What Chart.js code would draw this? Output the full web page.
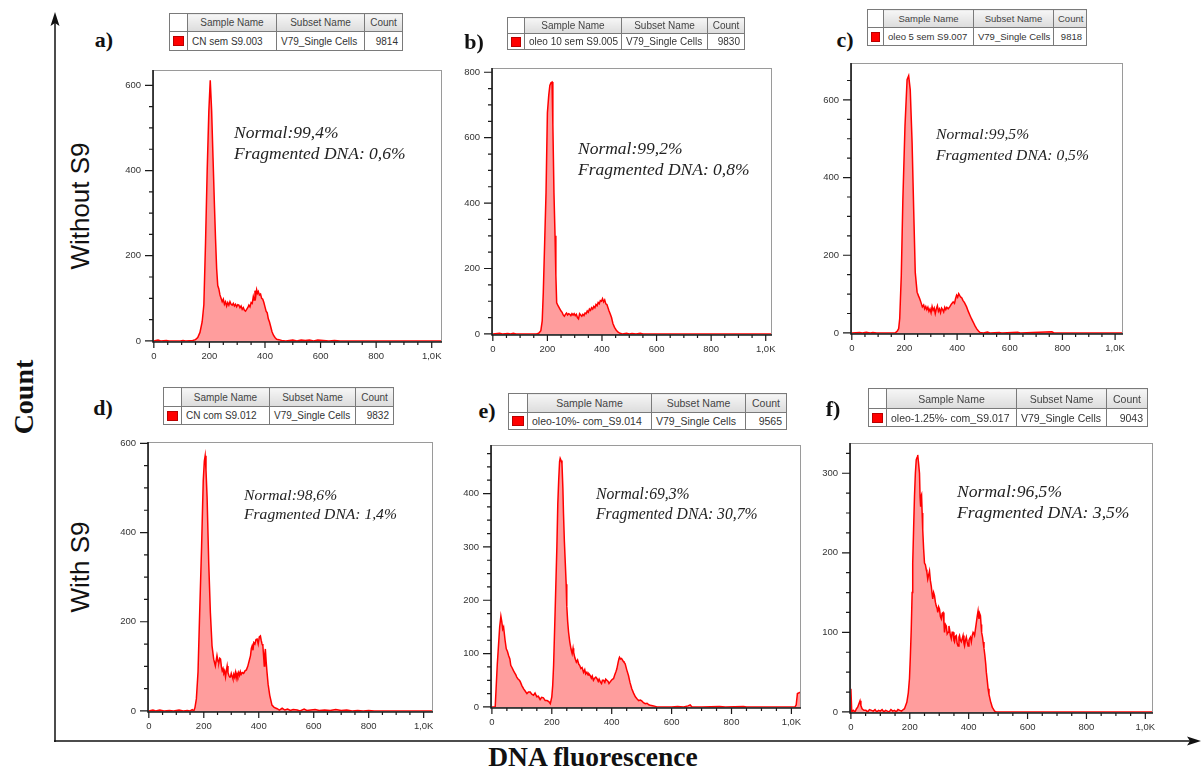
<!DOCTYPE html>
<html>
<head>
<meta charset="utf-8">
<script src="https://cdn.jsdelivr.net/npm/chart.js@4.4.1/dist/chart.umd.min.js"></script>
<style>
  body { margin:0; background:#fff; width:1202px; height:771px; position:relative; overflow:hidden;
         font-family:"Liberation Sans", Arial, sans-serif; }
  canvas { position:absolute; }
  svg { position:absolute; left:0; top:0; }
  .tag { position:absolute; font-family:"Liberation Serif", serif; font-weight:bold; font-size:22px;
         color:#111; transform:translate(-50%,-50%); white-space:nowrap; }
  .note { position:absolute; font-family:"Liberation Serif", serif; font-style:italic; color:#222; white-space:nowrap; }
  .row { position:absolute; font-size:26px; color:#111; white-space:nowrap;
         transform:translate(-50%,-50%) rotate(-90deg); }
  .big { position:absolute; font-family:"Liberation Serif", serif; font-weight:bold; font-size:28px; color:#111;
         white-space:nowrap; transform:translate(-50%,-50%); }
  table.info { position:absolute; border-collapse:collapse; table-layout:fixed; color:#333;
               border:1px solid #555; }
  table.info td { border:1px solid #7a7a7a; padding:0 4px; white-space:nowrap; overflow:hidden; }
  table.info tr.head td { background:linear-gradient(#f6f6f6,#dcdcdc); text-align:center; color:#444; }
  table.info tr.head td.blank { background:#fff; }
  table.info td.num { text-align:right; }
  table.info td.sw { padding:0 3px; }
  table.info td.sw div { background:#f00; border:1px solid #b00; height:8px; }
</style>
</head>
<body>
<svg width="1202" height="771">
  <line x1="55" y1="742" x2="55" y2="20" stroke="#111" stroke-width="1.5"/>
  <polygon points="55,12 50.5,26 55,23 59.5,26" fill="#111"/>
  <line x1="54" y1="741" x2="1192" y2="741" stroke="#111" stroke-width="1.5"/>
  <polygon points="1201,741 1187,736.5 1190,741 1187,745.5" fill="#111"/>
</svg>

<div class="row" style="left:80px; top:206px;">Without S9</div>
<div class="row" style="left:80px; top:567px;">With S9</div>
<div class="big" style="left:24px; top:397px; transform:translate(-50%,-50%) rotate(-90deg);">Count</div>
<div class="big" style="left:593px; top:757px; font-size:27.5px;">DNA fluorescence</div>

<script>
// DNA fluorescence channel vs count
const countsA = [[0,0],[15,2],[25,0],[45,1],[55,0],[95,0],[105,1],[115,0],[140,1],[150,3],[158,8],[166,20],[174,45],[180,85],
  [186,230],[192,400],[198,540],[203,612],[208,540],[213,430],[218,320],[222,240],[226,170],[230,130],[234,122],[238,108],
  [242,100],[246,92],[250,98],[254,86],[258,92],[262,82],[266,90],[270,84],[274,92],[278,86],[282,84],[286,88],[290,82],
  [294,86],[298,80],[302,85],[306,84],[310,78],[314,82],[318,74],[322,78],[326,72],[330,70],[334,74],[338,78],[342,84],
  [346,80],[350,90],[354,88],[358,104],[361,96],[364,118],[367,106],[370,120],[373,112],[376,116],[380,108],[384,110],
  [388,100],[392,98],[396,90],[400,80],[404,70],[408,66],[412,52],[416,45],[420,35],[425,22],[430,14],[436,8],[442,4],
  [450,3],[460,1],[475,0],[500,2],[515,0],[530,2],[545,1],[560,2],[575,0],[590,2],[610,1],[630,0],[650,1],[670,0],[1037,0]];

const countsB = [[0,0],[25,2],[35,0],[55,1],[65,0],[75,2],[85,0],[160,0],[168,2],[176,10],[181,40],[185,128],[190,280],
  [195,432],[200,676],[205,730],[209,760],[213,768],[217,770],[220,640],[224,432],[228,300],[231,180],[234,95],[238,88],
  [242,82],[246,76],[250,70],[254,66],[258,58],[262,54],[266,60],[270,64],[274,58],[278,62],[282,60],[286,56],[290,62],
  [294,58],[298,62],[302,56],[306,60],[310,50],[314,46],[318,62],[322,58],[326,54],[330,60],[334,56],[338,64],[342,62],
  [346,70],[350,66],[354,76],[358,72],[362,80],[366,76],[370,84],[374,80],[378,90],[382,86],[386,96],[390,92],[394,102],
  [398,100],[402,108],[406,98],[410,104],[414,92],[418,90],[422,80],[426,70],[430,62],[435,50],[440,32],[446,20],[452,12],
  [458,6],[466,2],[475,0],[490,2],[500,0],[510,1],[525,0],[540,2],[550,0],[1023,0]];

const countsC = [[0,0],[30,1],[40,0],[55,2],[70,0],[80,1],[95,0],[165,0],[172,4],[178,11],[182,37],[188,148],[194,344],
  [202,532],[210,652],[216,662],[222,626],[229,490],[235,319],[241,156],[248,105],[253,96],[258,88],[263,78],[268,67],
  [273,72],[277,62],[281,68],[285,60],[289,66],[293,56],[297,62],[301,52],[305,68],[309,58],[313,64],[317,50],[321,62],
  [325,70],[329,56],[333,62],[337,52],[341,64],[345,60],[349,54],[353,66],[357,60],[361,66],[366,62],[372,67],[378,74],
  [385,80],[390,76],[394,88],[398,97],[402,92],[406,101],[410,96],[414,92],[418,90],[422,84],[428,78],[436,67],[442,56],
  [449,45],[455,36],[461,28],[468,18],[474,11],[481,5],[487,1],[500,0],[515,2],[525,0],[560,1],[570,0],[630,2],[640,0],
  [760,3],[768,0],[1030,0]];

const countsD = [[0,0],[15,2],[25,0],[40,2],[55,0],[75,1],[90,0],[110,2],[125,0],[140,1],[150,0],[158,3],[164,0],[168,8],
  [173,27],[179,87],[185,220],[192,368],[198,516],[202,560],[205,572],[208,540],[212,479],[218,331],[224,220],[230,146],
  [236,116],[242,101],[248,124],[252,110],[255,109],[258,118],[261,116],[264,100],[267,90],[270,95],[273,84],[276,88],
  [279,76],[282,90],[285,101],[288,86],[291,80],[294,76],[297,76],[300,84],[303,78],[306,72],[309,82],[312,76],[315,86],
  [318,74],[321,84],[324,78],[327,86],[330,80],[333,88],[336,82],[340,86],[345,84],[350,90],[355,92],[360,100],[365,112],
  [370,124],[373,140],[376,146],[379,136],[382,153],[386,150],[390,160],[394,161],[398,150],[402,166],[406,168],[409,158],
  [412,150],[415,146],[418,120],[420,101],[422,125],[424,139],[427,110],[430,87],[434,60],[440,35],[448,13],[456,8],
  [467,5],[475,2],[485,6],[495,2],[505,4],[515,1],[525,3],[540,2],[550,0],[565,4],[575,1],[590,2],[605,3],[620,1],
  [640,2],[660,1],[680,3],[700,1],[720,2],[740,0],[760,1],[780,0],[800,1],[820,0],[1034,0]];

const countsE = [[0,0],[11,0],[14,34],[18,80],[22,115],[26,150],[30,170],[33,160],[36,146],[39,150],[41,140],[44,125],
  [48,109],[52,104],[56,96],[60,90],[63,78],[67,74],[72,68],[76,64],[80,60],[83,56],[88,52],[92,50],[95,47],[100,40],
  [106,34],[111,30],[117,25],[122,28],[128,28],[133,24],[139,22],[144,26],[150,19],[155,20],[161,14],[166,18],[172,17],
  [178,12],[184,12],[190,10],[195,6],[200,19],[203,40],[206,78],[211,177],[217,301],[220,380],[223,425],[226,460],
  [228,466],[231,462],[234,456],[237,410],[239,363],[242,310],[245,270],[248,230],[250,189],[253,160],[256,140],[260,122],
  [264,109],[268,100],[271,110],[273,102],[277,92],[282,84],[286,88],[290,80],[293,78],[297,72],[301,74],[306,65],
  [310,70],[313,62],[317,65],[321,60],[324,62],[328,59],[332,54],[335,58],[339,50],[343,54],[347,56],[351,53],[355,48],
  [358,52],[362,47],[366,44],[369,50],[373,50],[377,46],[380,52],[384,50],[388,48],[391,44],[395,47],[399,50],[403,52],
  [406,53],[410,60],[414,66],[417,71],[421,82],[424,90],[426,93],[429,90],[432,91],[434,90],[438,86],[441,84],[445,81],
  [450,70],[456,59],[461,46],[467,34],[473,26],[479,19],[485,15],[490,12],[496,13],[501,11],[506,8],[512,6],[518,7],
  [524,4],[529,3],[540,2],[551,0],[600,0],[620,1],[640,0],[655,2],[662,4],[668,0],[700,0],[760,1],[780,0],[840,1],
  [850,0],[1012,0],[1016,4],[1020,25],[1032,28]];

const countsF = [[0,29],[3,0],[8,2],[14,0],[19,4],[23,6],[27,10],[31,14],[34,8],[38,4],[44,2],[51,2],[57,0],[63,3],[70,2],
  [76,1],[82,3],[88,0],[94,2],[100,1],[106,3],[112,0],[118,2],[124,1],[130,0],[136,3],[142,1],[148,2],[154,0],[160,3],
  [166,2],[172,1],[178,3],[182,4],[186,8],[190,12],[195,24],[199,42],[202,70],[205,104],[208,150],[210,187],[213,230],
  [216,271],[219,300],[222,317],[225,320],[227,323],[230,312],[233,300],[235,270],[236,258],[238,270],[240,273],[242,250],
  [244,229],[247,205],[250,187],[253,185],[256,179],[258,176],[261,167],[264,172],[267,177],[270,165],[273,158],[276,148],
  [278,142],[281,150],[284,146],[287,138],[290,133],[293,130],[295,125],[298,132],[301,129],[304,120],[307,117],[310,124],
  [313,125],[316,112],[318,100],[321,110],[324,108],[327,98],[330,100],[333,108],[335,104],[338,96],[341,92],[344,100],
  [347,100],[350,90],[352,88],[355,95],[358,96],[361,86],[364,83],[367,94],[369,96],[372,90],[375,88],[378,92],[381,96],
  [384,86],[386,83],[389,90],[392,94],[395,88],[398,83],[401,90],[403,92],[406,94],[409,88],[412,96],[415,100],[418,98],
  [420,96],[423,104],[426,112],[429,120],[432,127],[435,117],[437,124],[440,121],[442,110],[444,100],[447,94],[449,88],
  [452,80],[455,71],[458,60],[460,50],[463,40],[466,29],[469,22],[472,17],[475,12],[477,10],[480,6],[483,4],[488,1],
  [494,0],[1026,0]];

const panelTags   = ['a)', 'b)', 'c)', 'd)', 'e)', 'f)'];
const sampleNames = ['CN sem S9.003', 'oleo 10 sem S9.005', 'oleo 5 sem S9.007',
                     'CN com S9.012', 'oleo-10%- com_S9.014', 'oleo-1.25%- com_S9.017'];
const subsetName  = 'V79_Single Cells';
const cellCounts  = [9814, 9830, 9818, 9832, 9565, 9043];
const normalPct   = ['99,4%', '99,2%', '99,5%', '98,6%', '69,3%', '96,5%'];
const fragPct     = ['0,6%', '0,8%', '0,5%', '1,4%', '30,7%', '3,5%'];
const xTickValues = [0, 200, 400, 600, 800, 1000];
const xTickLabels = ['0', '200', '400', '600', '800', '1,0K'];
const yTickSteps  = [200, 200, 200, 200, 100, 100];
const yMaxima     = [636, 813, 695, 603, 491, 338];
const xMaxima     = [1037, 1023, 1030, 1034, 1032, 1026];
const allCounts   = [countsA, countsB, countsC, countsD, countsE, countsF];

// layout of each panel on the page
const boxes = [
  {l:153, t:70,  r:442,  b:342}, {l:492, t:68,  r:772,  b:335}, {l:851, t:63,  r:1123, b:334},
  {l:148, t:442, r:433,  b:712}, {l:491, t:445, r:801,  b:708}, {l:850, t:443, r:1153, b:713}
];
const tables = [
  {l:169, t:13,  w:[18, 89, 88, 38],  h:[18, 19], fs:10},
  {l:507, t:17,  w:[17, 97, 86, 37],  h:[16, 16], fs:10},
  {l:867, t:9,   w:[16, 90, 80, 33],  h:[18, 18], fs:9.5},
  {l:163, t:387, w:[18, 88, 86, 38],  h:[19, 18], fs:10},
  {l:508, t:393, w:[19, 124, 94, 41], h:[19, 17], fs:10.5},
  {l:868, t:388, w:[18, 130, 90, 41], h:[20, 18], fs:10.5}
];
const tagPos = [[104, 40], [474, 42], [845, 40], [103, 408], [487, 411], [833, 409]];
const notes = [
  {l:234, cap:127, fs:17.5, lh:20.5}, {l:578, cap:143, fs:17.5, lh:21.5}, {l:936, cap:128, fs:15.6, lh:21},
  {l:244, cap:489, fs:15.6, lh:19},   {l:596, cap:489, fs:15.7, lh:19.3}, {l:957, cap:486, fs:17.6, lh:20.7}
];

Chart.defaults.font.family = '"Liberation Sans", Arial, sans-serif';

// gray plot frame, black axis lines, major and minor tick marks
const framePlugin = {
  id: 'frame',
  afterDatasetsDraw(chart) {
    const ctx = chart.ctx, a = chart.chartArea, x = chart.scales.x, y = chart.scales.y;
    const p = chart.options.plugins.frame;
    ctx.save();
    ctx.strokeStyle = '#9a9a9a'; ctx.lineWidth = 1;
    ctx.strokeRect(a.left + 0.5, a.top + 0.5, a.right - a.left - 1, a.bottom - a.top - 1);
    ctx.strokeStyle = '#1a1a1a'; ctx.lineWidth = 1.6;
    ctx.beginPath();
    ctx.moveTo(a.left, a.top); ctx.lineTo(a.left, a.bottom); ctx.lineTo(a.right, a.bottom);
    ctx.stroke();
    ctx.lineWidth = 1.2;
    ctx.beginPath();
    for (let v = 0; v <= 1000; v += 50) {
      const px = x.getPixelForValue(v);
      ctx.moveTo(px, a.bottom); ctx.lineTo(px, a.bottom + (v % 200 === 0 ? 6 : 3));
    }
    for (let v = 0; v <= p.yMax; v += p.yStep / 4) {
      const py = y.getPixelForValue(v);
      ctx.moveTo(a.left, py); ctx.lineTo(a.left - (v % p.yStep === 0 ? 8 : 4), py);
    }
    ctx.stroke();
    ctx.restore();
  }
};

boxes.forEach((bx, i) => {
  const cv = document.createElement('canvas');
  const W = bx.r - bx.l + 52, H = bx.b - bx.t + 30;
  cv.width = W; cv.height = H;
  cv.style.left = (bx.l - 40) + 'px'; cv.style.top = (bx.t - 6) + 'px';
  cv.style.width = W + 'px'; cv.style.height = H + 'px';
  document.body.appendChild(cv);

  const yMax = yMaxima[i], step = yTickSteps[i];
  const yTicks = [];
  for (let v = 0; v <= yMax; v += step) yTicks.push(v);

  new Chart(cv, {
    type: 'line',
    data: {
      datasets: [{
        data: allCounts[i].map(p => ({x: p[0], y: p[1]})),
        borderColor: '#ff0000',
        backgroundColor: 'rgba(255, 60, 60, 0.5)',
        borderWidth: 1.5,
        pointRadius: 0,
        tension: 0,
        fill: 'origin'
      }]
    },
    options: {
      responsive: false,
      animation: false,
      devicePixelRatio: 1,
      layout: {padding: {left: 0, top: 6, right: 12, bottom: 0}},
      plugins: {
        legend: {display: false},
        tooltip: {enabled: false},
        frame: {yMax: yMax, yStep: step}
      },
      scales: {
        x: {
          type: 'linear', min: -3, max: xMaxima[i],
          afterFit: s => { s.height = 24; s.paddingLeft = 0; s.paddingRight = 0; },
          afterBuildTicks: s => { s.ticks = xTickValues.map(v => ({value: v})); },
          grid: {display: false, drawTicks: false},
          border: {display: false},
          ticks: {
            autoSkip: false, maxRotation: 0, padding: 9, color: '#333',
            font: {size: 9.5},
            callback: v => xTickLabels[xTickValues.indexOf(v)]
          }
        },
        y: {
          min: -yMax * 0.004, max: yMax,
          afterFit: s => { s.width = 40; s.paddingTop = 0; s.paddingBottom = 0; },
          afterBuildTicks: s => { s.ticks = yTicks.map(v => ({value: v})); },
          grid: {display: false, drawTicks: false},
          border: {display: false},
          ticks: {padding: 12, color: '#333', font: {size: 9.5}}
        }
      }
    },
    plugins: [framePlugin]
  });

  // sample table above the plot
  const tb = tables[i];
  const tab = document.createElement('table');
  tab.className = 'info';
  tab.style.left = tb.l + 'px'; tab.style.top = tb.t + 'px';
  tab.style.fontSize = tb.fs + 'px';
  tab.style.width = tb.w.reduce((s, v) => s + v, 0) + 'px';
  tab.innerHTML =
    '<colgroup>' + tb.w.map(w => '<col style="width:' + w + 'px">').join('') + '</colgroup>' +
    '<tr class="head" style="height:' + tb.h[0] + 'px"><td class="blank"></td><td>Sample Name</td><td>Subset Name</td><td>Count</td></tr>' +
    '<tr style="height:' + tb.h[1] + 'px"><td class="sw"><div></div></td><td>' + sampleNames[i] + '</td><td>' +
    subsetName + '</td><td class="num">' + cellCounts[i] + '</td></tr>';
  document.body.appendChild(tab);

  // panel letter
  const tag = document.createElement('div');
  tag.className = 'tag';
  tag.textContent = panelTags[i];
  tag.style.left = tagPos[i][0] + 'px'; tag.style.top = tagPos[i][1] + 'px';
  document.body.appendChild(tag);

  // percentages written inside the plot
  const n = notes[i];
  const nd = document.createElement('div');
  nd.className = 'note';
  nd.style.fontSize = n.fs + 'px';
  nd.style.lineHeight = n.lh + 'px';
  nd.style.left = n.l + 'px';
  nd.style.top = (n.cap - (n.lh - n.fs * 1.107) / 2 - 0.229 * n.fs) + 'px';
  nd.innerHTML = 'Normal:' + normalPct[i] + '<br>Fragmented DNA: ' + fragPct[i];
  document.body.appendChild(nd);
});
</script>
</body>
</html>
